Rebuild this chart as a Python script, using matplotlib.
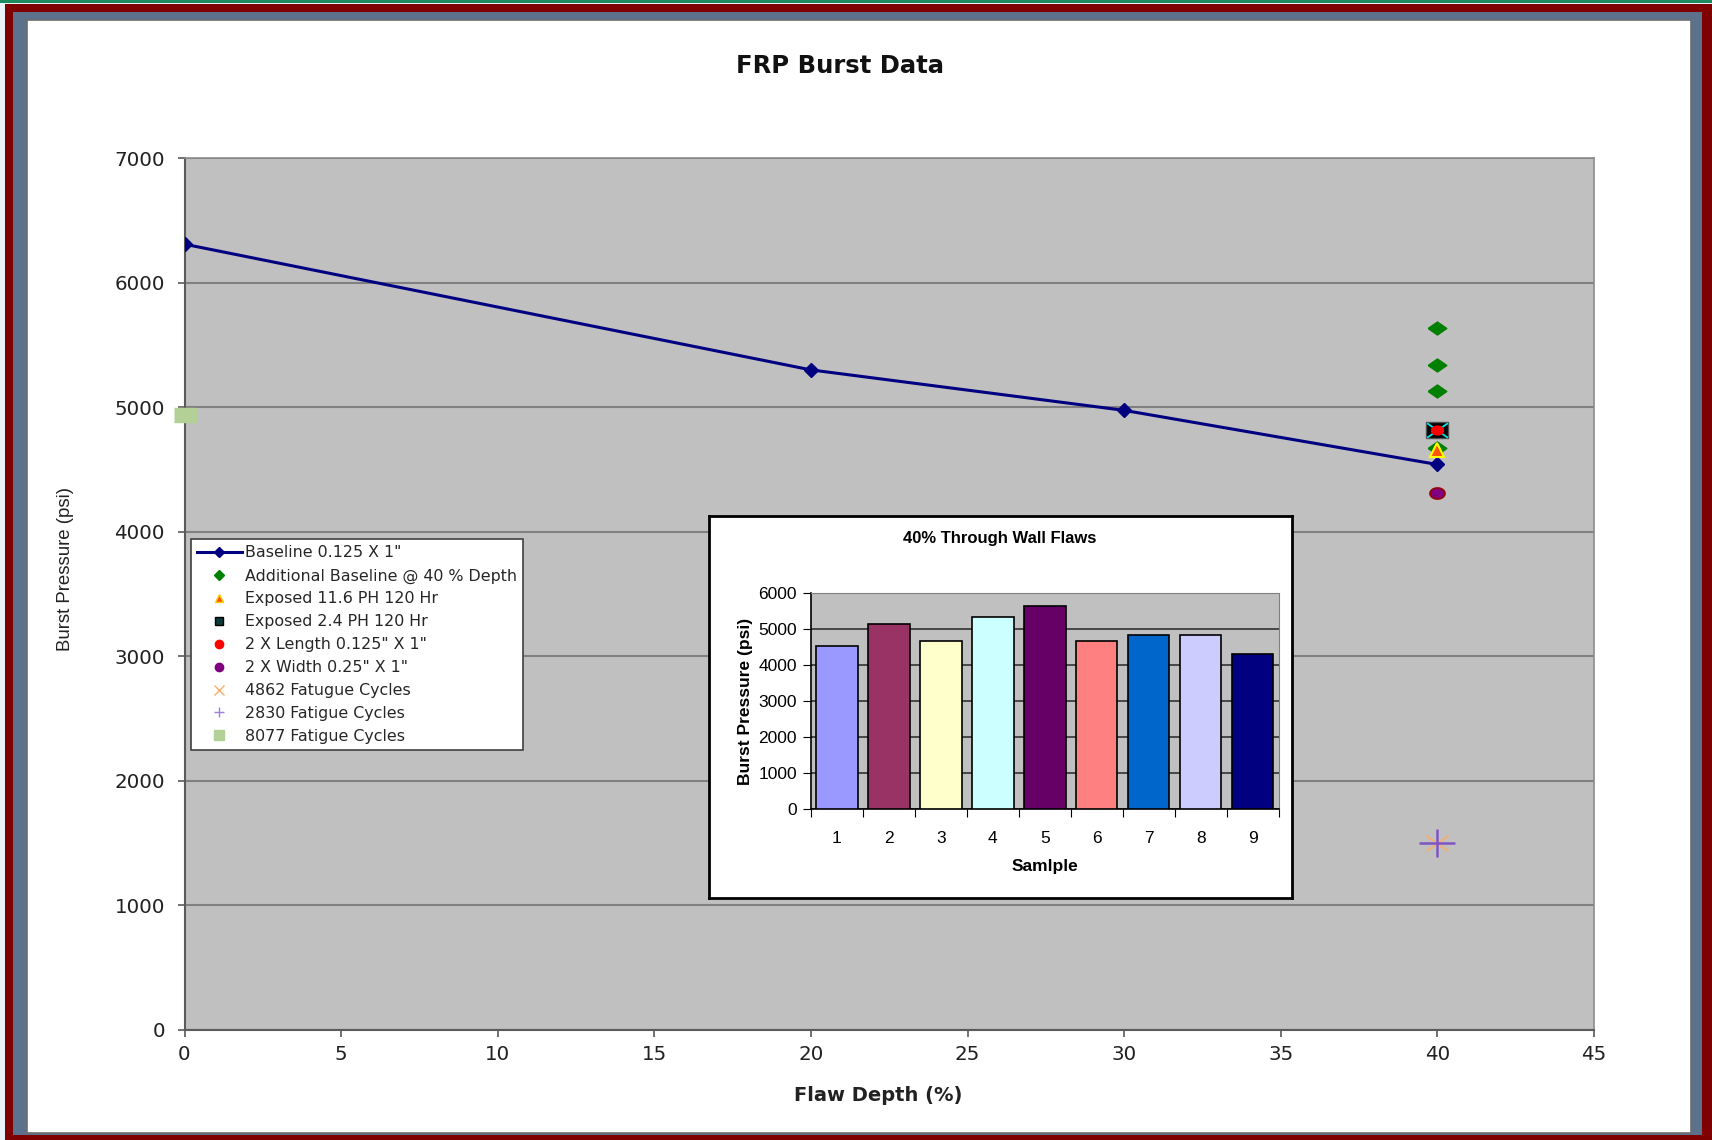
import numpy as np
import matplotlib
matplotlib.use("Agg")
import matplotlib.pyplot as plt
from matplotlib.patches import Rectangle
from matplotlib.lines import Line2D
from matplotlib.path import Path

plt.rcParams['font.family'] = ['Liberation Sans', 'DejaVu Sans']

# main chart data
baseline_x = [0, 20, 30, 40]
baseline_y = [6310, 5300, 4975, 4540]
additional_y = [5640, 5340, 5130, 4670]
exposed_116_y = [4660]
exposed_24_y = [4820]
length_2x_y = [4820]
width_2x_y = [4310]
fatigue_4862_y = [1500]
fatigue_2830_y = [1500]
fatigue_8077_y = [4940]

# inset bar data
samples = [1, 2, 3, 4, 5, 6, 7, 8, 9]
sample_psi = [4540, 5130, 4670, 5340, 5640, 4660, 4820, 4820, 4310]
bar_colors = ['#9999FF', '#993366', '#FFFFCC', '#CCFFFF', '#660066',
              '#FF8080', '#0066CC', '#CCCCFF', '#000080']

W, H = 1712, 1140
WIDE = 'DejaVu Sans'


def box(l, t, r, b):
    return [l / W, 1 - b / H, (r - l) / W, (b - t) / H]


# squat marker shapes
t = np.linspace(0, 2 * np.pi, 40)
ellipse = Path(np.column_stack([np.cos(t), 0.74 * np.sin(t)]))
wide_diamond = Path([(-1, 0), (0, 0.7), (1, 0), (0, -0.7), (-1, 0)])
wide_box = Path([(-1, -0.7), (1, -0.7), (1, 0.7), (-1, 0.7), (-1, -0.7)])
box_cross = Path([(-1, -0.7), (1, 0.7), (-1, 0.7), (1, -0.7)],
                 [Path.MOVETO, Path.LINETO, Path.MOVETO, Path.LINETO])
wide_plus = Path([(-1, 0), (1, 0), (0, -0.75), (0, 0.75)],
                 [Path.MOVETO, Path.LINETO, Path.MOVETO, Path.LINETO])
wide_x = Path([(-1, -0.7), (1, 0.7), (-1, 0.7), (1, -0.7)],
              [Path.MOVETO, Path.LINETO, Path.MOVETO, Path.LINETO])

fig = plt.figure(figsize=(W / 100, H / 100), dpi=100)
fig.patch.set_facecolor('#EAF2FA')

# window frame
fig.patches.append(Rectangle((0, 1 - 3 / H), 1, 3 / H, transform=fig.transFigure,
                             facecolor='#1C8C5E', edgecolor='none', zorder=-10))
fig.patches.append(Rectangle((5 / W, 0), 1 - 5 / W, 1 - 4 / H, transform=fig.transFigure,
                             facecolor='#7F0000', edgecolor='none', zorder=-10))
fig.patches.append(Rectangle((13 / W, 1 - 1135 / H), (1702 - 13) / W, (1135 - 12) / H,
                             transform=fig.transFigure, facecolor='#5B718C',
                             edgecolor='none', zorder=-9))
fig.patches.append(Rectangle((27 / W, 1 - 1133 / H), (1691 - 27) / W, (1133 - 20) / H,
                             transform=fig.transFigure, facecolor='white',
                             edgecolor='#6E6E6E', linewidth=1.2, zorder=-8))

ax = fig.add_axes(box(184.5, 158.3, 1594, 1029.6))
ax.set_facecolor('#C0C0C0')
ax.set_xlim(0, 45)
ax.set_ylim(0, 7000)
ax.set_xticks(np.arange(0, 46, 5))
ax.set_yticks(np.arange(0, 7001, 1000))
ax.yaxis.grid(True, color='#808080', linewidth=1.5)
ax.set_axisbelow(True)
for s in ['top', 'right']:
    ax.spines[s].set_color('#8C8C8C')
    ax.spines[s].set_linewidth(1.2)
for s in ['left', 'bottom']:
    ax.spines[s].set_color('#5A5A5A')
    ax.spines[s].set_linewidth(1.5)
ax.tick_params(axis='both', labelsize=14.3, colors='#5A5A5A', labelcolor='#222222',
               length=5, width=1.2)
ax.tick_params(axis='y', pad=9)
ax.tick_params(axis='x', pad=6)
for lbl in ax.get_xticklabels() + ax.get_yticklabels():
    lbl.set_fontfamily(WIDE)

ax.plot(baseline_x, baseline_y, color='#000080', linewidth=2.2, marker='D',
        markersize=7, zorder=3)
ax.plot([40] * len(additional_y), additional_y, linestyle='none', marker=wide_diamond,
        color='#008000', markersize=13.4, zorder=3)
ax.plot([40] * len(exposed_116_y), exposed_116_y, linestyle='none', marker='^',
        markerfacecolor='#FF5500', markeredgecolor='#FFFF00', markeredgewidth=1.5,
        markersize=9.5, zorder=4)
# black box with a cyan cross
ax.plot([40] * len(exposed_24_y), exposed_24_y, linestyle='none', marker=wide_box,
        markerfacecolor='black', markeredgecolor='#505050', markersize=16.3, zorder=4)
ax.plot([40] * len(exposed_24_y), exposed_24_y, linestyle='none', marker=box_cross,
        color='#00E5E5', markersize=15, markeredgewidth=1.3, zorder=4)
ax.plot([40] * len(length_2x_y), length_2x_y, linestyle='none', marker=ellipse,
        color='#FF0000', markersize=8.6, zorder=5)
ax.plot([40] * len(width_2x_y), width_2x_y, linestyle='none', marker=ellipse,
        markerfacecolor='#800080', markeredgecolor='#990000', markeredgewidth=1.2,
        markersize=10.8, zorder=4)
ax.plot([40] * len(fatigue_4862_y), fatigue_4862_y, linestyle='none', marker=wide_x,
        color='#F5AE6E', markersize=16, markeredgewidth=1.3, zorder=4)
ax.plot([40] * len(fatigue_2830_y), fatigue_2830_y, linestyle='none', marker=wide_plus,
        color='#7F55C4', markersize=26, markeredgewidth=1.8, zorder=5)
ax.plot([0] * len(fatigue_8077_y), fatigue_8077_y, linestyle='none',
        marker=[(-1.45, -1), (1.45, -1), (1.45, 1), (-1.45, 1)],
        color='#B3D196', markersize=15.6, zorder=5, clip_on=False)

# legend entries with small markers
legend_items = [
    (Line2D([], [], color='#000080', linewidth=2.2, marker='D', markersize=5),
     'Baseline 0.125 X 1"'),
    (Line2D([], [], linestyle='none', marker='D', color='#008000', markersize=5),
     'Additional Baseline @ 40 % Depth'),
    (Line2D([], [], linestyle='none', marker='^', markerfacecolor='#FF5500',
            markeredgecolor='#FFCC00', markersize=6), 'Exposed 11.6 PH 120 Hr'),
    (Line2D([], [], linestyle='none', marker='s', markerfacecolor='#0A3A3A',
            markeredgecolor='black', markersize=6), 'Exposed 2.4 PH 120 Hr'),
    (Line2D([], [], linestyle='none', marker='o', color='#FF0000', markersize=6),
     '2 X Length 0.125" X 1"'),
    (Line2D([], [], linestyle='none', marker='o', color='#800080', markersize=6),
     '2 X Width 0.25" X 1"'),
    (Line2D([], [], linestyle='none', marker='x', color='#F5AE6E', markersize=6.5,
            markeredgewidth=1), '4862 Fatugue Cycles'),
    (Line2D([], [], linestyle='none', marker='+', color='#9F7FD8', markersize=7,
            markeredgewidth=1), '2830 Fatigue Cycles'),
    (Line2D([], [], linestyle='none', marker='s', color='#B3D196', markersize=6.5),
     '8077 Fatigue Cycles'),
]
leg = ax.legend([h for h, _ in legend_items], [l for _, l in legend_items],
                loc='upper left', bbox_to_anchor=(0.0046, 0.563),
                borderaxespad=0, frameon=True, fancybox=False, framealpha=1,
                prop={'family': WIDE, 'size': 11.4},
                handlelength=2.8, handletextpad=0.2, labelspacing=0.5,
                borderpad=0.4)
leg.get_frame().set_edgecolor('#404040')
leg.get_frame().set_linewidth(1.2)
for txt in leg.get_texts():
    txt.set_color('#262626')

ax.set_xlabel('Flaw Depth (%)', fontsize=14, fontweight='bold', labelpad=16,
              color='#222222', family=WIDE)
ax.xaxis.label.set_x(0.492)
ax.set_ylabel('Burst Pressure (psi)', fontsize=13.4, color='#222222')
ax.yaxis.set_label_coords(-0.0784, 0.5286)
fig.text(840 / W, 1 - 66 / H, 'FRP Burst Data', ha='center',
         va='center', fontsize=17.5, fontweight='bold', color='#111111', family=WIDE)

# inset chart frame
frame = fig.add_axes(box(708.6, 516.4, 1291.6, 897.5))
frame.set_facecolor('white')
frame.set_xticks([])
frame.set_yticks([])
for s in frame.spines.values():
    s.set_color('black')
    s.set_linewidth(2)
frame.set_zorder(5)

ia = fig.add_axes(box(811, 593, 1278.5, 809))
ia.set_zorder(6)
ia.set_facecolor('#C0C0C0')
ia.bar(samples, sample_psi, width=0.8, color=bar_colors, edgecolor='black',
       linewidth=1.2, zorder=3)
ia.set_xlim(0.5, 9.5)
ia.set_ylim(0, 6000)
ia.set_yticks(np.arange(0, 6001, 1000))
ia.set_xticks(np.arange(0.5, 9.6, 1))
ia.set_xticklabels([])
ia.set_xticks(samples, minor=True)
ia.set_xticklabels([str(s) for s in samples], minor=True)
ia.tick_params(axis='x', which='minor', length=0, pad=16, labelsize=12.5)
ia.tick_params(axis='x', which='major', length=6, direction='out', color='black')
ia.tick_params(axis='y', labelsize=12.5, length=6, color='black', pad=4)
ia.yaxis.grid(True, color='#333333', linewidth=1.2)
ia.set_axisbelow(True)
for s in ['top', 'right']:
    ia.spines[s].set_color('#808080')
for s in ['left', 'bottom']:
    ia.spines[s].set_color('black')
    ia.spines[s].set_linewidth(1.2)
ia.set_xlabel('Samlple', fontsize=12.5, fontweight='bold', labelpad=9)
ia.set_ylabel('Burst Pressure (psi)', fontsize=12.5, fontweight='bold', labelpad=4)
fig.text(1000 / W, 1 - 539 / H, '40% Through Wall Flaws', ha='center', va='center',
         fontsize=12, fontweight='bold', zorder=10)

fig.savefig('out.png', dpi=100)
